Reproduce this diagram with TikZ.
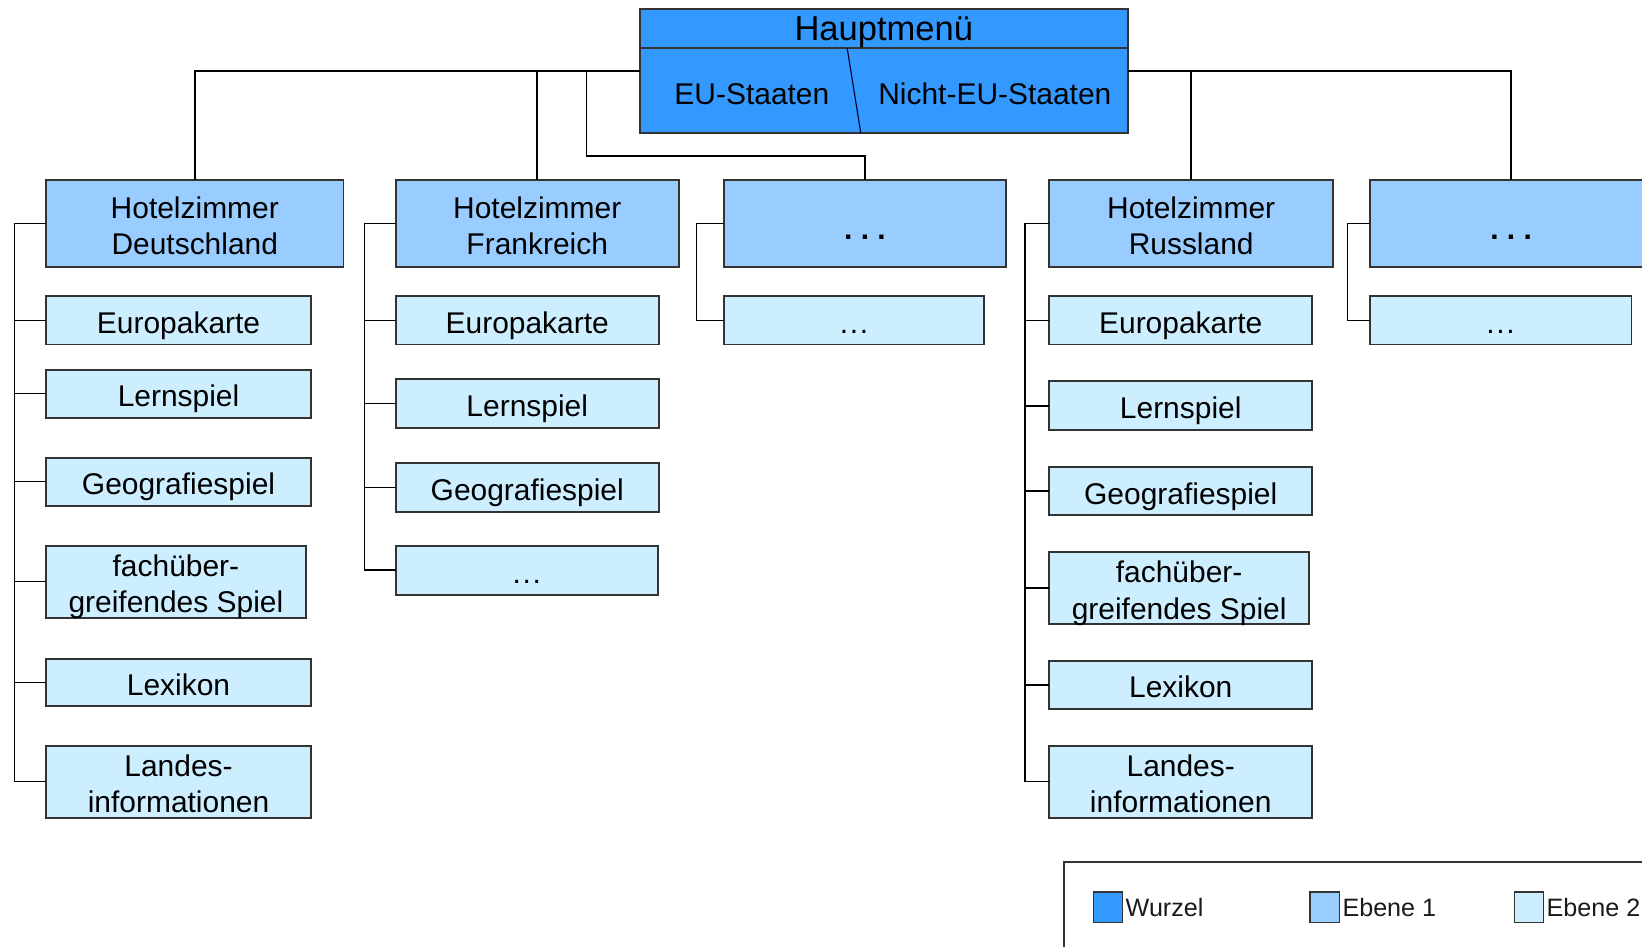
\documentclass[tikz,border=0pt]{standalone}
\usepackage{fontspec}
\setmainfont{Liberation Sans}
\definecolor{rootblue}{HTML}{3399FF}
\definecolor{lvlone}{HTML}{99CCFF}
\definecolor{lvltwo}{HTML}{CCEEFF}
\definecolor{boxedge}{HTML}{333333}
\definecolor{legtext}{HTML}{1A1A1A}
\newcommand\boxfont{\fontsize{28.6}{35}\selectfont}
% #1 style, #2 name, #3 x1, #4 y1, #5 x2, #6 y2, #7 text
\newcommand\placebox[7]{%
  \node[#1, minimum width={#5pt-#3pt}, minimum height={#6pt-#4pt}]
    (#2) at ({(#3+#5)/2},{(#4+#6)/2}) {#7};}
\begin{document}
\begin{tikzpicture}[x=1pt,y=-1pt,
  every node/.style={inner sep=0pt, outer sep=0pt},
  frame/.style={draw=boxedge, line width=1.8pt},
  rootbox/.style={frame, fill=rootblue},
  onebox/.style={frame, fill=lvlone, font=\boxfont, align=center,
    text height=24.6pt, text depth=0pt},
  twobox/.style={frame, fill=lvltwo, font=\boxfont, align=center,
    text height=24.6pt, text depth=0pt},
  twolines/.style={text height=59.6pt},
  conn/.style={draw=black, line width=1.4pt},
  legsq/.style={draw=boxedge, line width=1.4pt, minimum width=28pt, minimum height=29pt},
  legtxt/.style={anchor=west, text=legtext, font=\fontsize{24}{28}\selectfont,
    text height=17.2pt, text depth=0pt},
]
\useasboundingbox (0,0) rectangle (1568,904);
\clip (0,0) rectangle (1568,904);
\fill[white] (0,0) rectangle (1568,904);

% root menu
\placebox{rootbox}{root}{611}{9}{1077}{127}{}
\draw[frame] (611,46) -- (1077,46);
\draw[draw=black!80!blue, line width=1.1pt] (809,46) -- (822,127);
\node[font=\fontsize{33}{38}\selectfont, text height=23.8pt, text depth=0pt] (title) at (844,27) {Hauptmenü};
\node[font=\boxfont, text height=20.5pt, text depth=0pt] (eu) at (718,89.5) {EU-Staaten};
\node[font=\boxfont, text height=20.5pt, text depth=0pt] (neu) at (950,89.5) {Nicht-EU-Staaten};

% first level
\placebox{onebox,twolines}{de}{44}{172}{328}{255}{Hotelzimmer\\Deutschland}
\placebox{onebox,twolines}{fr}{378}{172}{648}{255}{Hotelzimmer\\Frankreich}
\placebox{onebox}{xa}{691}{172}{961}{255}{\raisebox{-3pt}{\bfseries .\ .\ .}}
\placebox{onebox,twolines}{ru}{1002}{172}{1273}{255}{Hotelzimmer\\Russland}
\placebox{onebox}{xb}{1308}{172}{1578}{255}{\raisebox{-3pt}{\bfseries .\ .\ .}}

% second level: Deutschland
\placebox{twobox}{deA}{44}{283}{297}{329}{Europakarte}
\placebox{twobox}{deB}{44}{353}{297}{399}{Lernspiel}
\placebox{twobox}{deC}{44}{437}{297}{483}{Geografiespiel}
\placebox{twobox,twolines}{deD}{44}{521}{292}{590}{fachüber-\\greifendes Spiel}
\placebox{twobox}{deE}{44}{629}{297}{674}{Lexikon}
\placebox{twobox,twolines}{deF}{44}{712}{297}{781}{Landes-\\informationen}

% second level: Frankreich
\placebox{twobox}{frA}{378}{283}{629}{329}{Europakarte}
\placebox{twobox}{frB}{378}{362}{629}{409}{Lernspiel}
\placebox{twobox}{frC}{378}{442}{629}{489}{Geografiespiel}
\placebox{twobox}{frD}{378}{521}{628}{568}{.\kern1.6pt.\kern1.6pt.}

% second level: further EU states
\placebox{twobox}{xaA}{691}{283}{940}{329}{.\kern1.6pt.\kern1.6pt.}

% second level: Russland
\placebox{twobox}{ruA}{1002}{283}{1253}{329}{Europakarte}
\placebox{twobox}{ruB}{1002}{364}{1253}{411}{Lernspiel}
\placebox{twobox}{ruC}{1002}{446}{1253}{492}{Geografiespiel}
\placebox{twobox,twolines}{ruD}{1002}{527}{1250}{596}{fachüber-\\greifendes Spiel}
\placebox{twobox}{ruE}{1002}{631}{1253}{677}{Lexikon}
\placebox{twobox,twolines}{ruF}{1002}{712}{1253}{781}{Landes-\\informationen}

% second level: further non-EU states
\placebox{twobox}{xbA}{1308}{283}{1558}{329}{.\kern1.6pt.\kern1.6pt.}

% root to first level
\coordinate (xaj) at (560,68);
\coordinate (xak) at (560,149);
\draw[conn] (root.west) -| (de.north);
\draw[conn] (fr.north |- root.west) -- (fr.north);
\draw[conn] (xaj) -- (xak) -| (xa.north);
\draw[conn] (root.east) -| (xb.north);
\draw[conn] (ru.north |- root.east) -- (ru.north);

% first level to second level
\coordinate (deBar) at (14,0);
\coordinate (frBar) at (348,0);
\coordinate (xaBar) at (665,0);
\coordinate (ruBar) at (979,0);
\coordinate (xbBar) at (1287,0);
\draw[conn] (de.west) -| (deBar |- deF.west) -- (deF.west);
\foreach \c in {deA,deB,deC,deD,deE} \draw[conn] (deBar |- \c.west) -- (\c.west);
\draw[conn] (fr.west) -| (frBar |- frD.west) -- (frD.west);
\foreach \c in {frA,frB,frC} \draw[conn] (frBar |- \c.west) -- (\c.west);
\draw[conn] (xa.west) -| (xaBar |- xaA.west) -- (xaA.west);
\draw[conn] (ru.west) -| (ruBar |- ruF.west) -- (ruF.west);
\foreach \c in {ruA,ruB,ruC,ruD,ruE} \draw[conn] (ruBar |- \c.west) -- (\c.west);
\draw[conn] (xb.west) -| (xbBar |- xbA.west) -- (xbA.west);

% legend
\draw[draw=boxedge, line width=1.6pt] (1016,960) -- (1016,823) -- (1600,823);
\node[legsq, fill=rootblue] (lgW) at (1058,866.5) {};
\node[legtxt] (lgWt) at ([xshift=3pt]lgW.east) {Wurzel};
\node[legsq, fill=lvlone] (lgA) at (1265,866.5) {};
\node[legtxt] (lgAt) at ([xshift=3pt]lgA.east) {Ebene 1};
\node[legsq, fill=lvltwo] (lgB) at (1460,866.5) {};
\node[legtxt] (lgBt) at ([xshift=3pt]lgB.east) {Ebene 2};
\end{tikzpicture}
\end{document}
